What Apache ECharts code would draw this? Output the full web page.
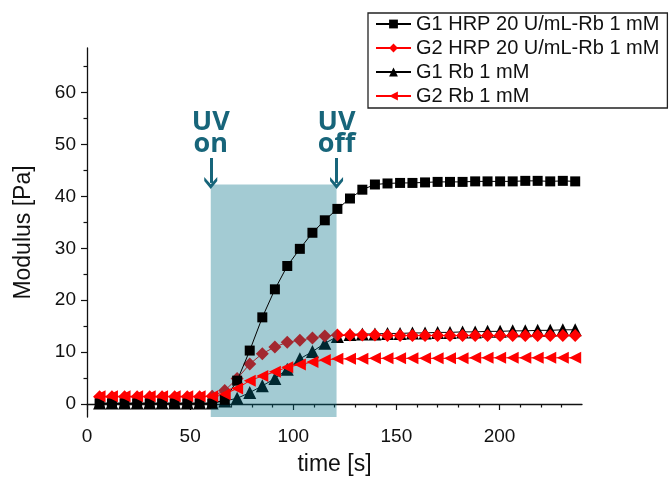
<!DOCTYPE html>
<html>
<head>
<meta charset="utf-8">
<script src="https://cdn.jsdelivr.net/npm/echarts@6/dist/echarts.min.js"></script>
<style>
  html, body { margin: 0; padding: 0; background: #fff; }
  #chart { width: 669px; height: 481px; }
</style>
</head>
<body>
<div id="chart"></div>
<script>
// measurement times [s]
const times = [6.1, 12.1, 18.2, 24.3, 30.4, 36.4, 42.5, 48.6, 54.6, 60.7,
  66.8, 72.8, 78.9, 85.0, 91.1, 97.1, 103.2, 109.3, 115.3, 121.4,
  127.5, 133.5, 139.6, 145.7, 151.8, 157.8, 163.9, 170.0, 176.0, 182.1,
  188.2, 194.2, 200.3, 206.4, 212.5, 218.5, 224.6, 230.7, 236.7];

// modulus [Pa]
const g1Hrp = [0.1, 0.1, 0.1, 0.1, 0.1, 0.1, 0.1, 0.1, 0.1, 0.1,
  0.8, 4.5, 10.3, 16.7, 22.1, 26.6, 29.9, 33.0, 35.4, 37.6,
  39.6, 41.3, 42.3, 42.5, 42.6, 42.6, 42.7, 42.8, 42.8, 42.8,
  42.9, 42.9, 42.9, 42.9, 43.0, 43.0, 42.9, 43.0, 42.9];
const g2Hrp = [1.4, 1.4, 1.4, 1.4, 1.4, 1.4, 1.4, 1.4, 1.4, 1.5,
  2.6, 4.9, 7.7, 9.7, 11.0, 11.9, 12.3, 12.7, 13.1, 13.3,
  13.3, 13.3, 13.3, 13.2, 13.2, 13.2, 13.2, 13.2, 13.2, 13.2,
  13.2, 13.2, 13.2, 13.2, 13.2, 13.2, 13.2, 13.2, 13.2];
const g1Rb = [0.2, 0.2, 0.2, 0.2, 0.2, 0.2, 0.2, 0.2, 0.2, 0.2,
  0.6, 1.1, 2.2, 3.5, 4.9, 6.7, 8.7, 10.1, 11.7, 13.0,
  13.4, 13.5, 13.5, 13.6, 13.6, 13.7, 13.7, 13.8, 13.8, 13.9,
  13.9, 14.0, 14.0, 14.1, 14.1, 14.2, 14.2, 14.3, 14.3];
const g2Rb = [1.5, 1.5, 1.5, 1.5, 1.5, 1.5, 1.5, 1.5, 1.5, 1.5,
  1.9, 3.0, 4.5, 5.4, 6.2, 7.1, 7.6, 8.1, 8.5, 8.7,
  8.7, 8.7, 8.8, 8.8, 8.8, 8.8, 8.8, 8.8, 8.8, 8.8,
  8.9, 8.9, 8.9, 8.9, 8.9, 8.9, 8.9, 8.9, 8.9];

const seriesNames = ['G1 HRP 20 U/mL-Rb 1 mM', 'G2 HRP 20 U/mL-Rb 1 mM', 'G1 Rb 1 mM', 'G2 Rb 1 mM'];
const xTicks = [0, 50, 100, 150, 200];
const yTicks = [0, 10, 20, 30, 40, 50, 60];

// UV exposure window
const uvOn = 60;
const uvOff = 121;
const uvTop = 42.3;

const font = 'Liberation Sans, Arial, sans-serif';
const teal = '#17657a';
const chevron = 'path://M5,0 L10,6 L10,9 L5,3.5 L0,9 L0,6 Z';

const pairs = vals => times.map((t, i) => [t, vals[i]]);

const lineSeries = (name, vals, color, symbol, size, z, rotate) => ({
  name: name,
  type: 'line',
  data: pairs(vals),
  symbol: symbol,
  symbolSize: size,
  symbolRotate: rotate || 0,
  showSymbol: true,
  z: z,
  itemStyle: { color: color, borderWidth: 0 },
  lineStyle: { color: color, width: 1 },
  emphasis: { disabled: true }
});

const chart = echarts.init(document.getElementById('chart'), null, { renderer: 'canvas' });

chart.setOption({
  animation: false,
  backgroundColor: '#fff',
  grid: { left: 87, right: 87, top: 48, bottom: 63 },
  legend: {
    orient: 'vertical',
    left: 368,
    top: 13,
    padding: [1, 8, 2, 7],
    itemGap: 4,
    itemWidth: 35,
    itemHeight: 11,
    borderColor: '#222',
    borderWidth: 1.3,
    textStyle: { fontFamily: font, fontSize: 20, color: '#111', lineHeight: 20 },
    data: seriesNames
  },
  xAxis: {
    type: 'value',
    min: 0,
    max: 240,
    splitNumber: 5,
    name: 'time [s]',
    nameLocation: 'middle',
    nameGap: 36,
    nameTextStyle: { fontFamily: font, fontSize: 23, color: '#111' },
    axisLine: { lineStyle: { color: '#111', width: 1.3 } },
    axisTick: { length: 6, lineStyle: { color: '#111', width: 1.2 }, customValues: xTicks },
    minorTick: { show: true, splitNumber: 5, length: 3.5, lineStyle: { color: '#111', width: 1.2 } },
    axisLabel: { fontFamily: font, fontSize: 19, color: '#111', margin: 10, customValues: xTicks },
    splitLine: { show: false }
  },
  yAxis: {
    type: 'value',
    min: -2.5,
    max: 68.6,
    splitNumber: 7,
    name: 'Modulus [Pa]',
    nameLocation: 'middle',
    nameGap: 52,
    nameTextStyle: { fontFamily: font, fontSize: 23, color: '#111' },
    axisLine: { show: true, lineStyle: { color: '#111', width: 1.3 } },
    axisTick: { show: true, length: 6, lineStyle: { color: '#111', width: 1.2 }, customValues: yTicks },
    minorTick: { show: true, splitNumber: 2, length: 3.5, lineStyle: { color: '#111', width: 1.2 } },
    axisLabel: { fontFamily: font, fontSize: 19, color: '#111', margin: 11, customValues: yTicks },
    splitLine: { show: false }
  },
  series: [
    lineSeries(seriesNames[2], g1Rb, '#000', 'triangle', 13, 2),
    lineSeries(seriesNames[1], g2Hrp, '#ff0000', 'diamond', 13, 2),
    {
      name: 'uv-shade',
      type: 'line',
      data: [],
      z: 3,
      silent: true,
      markArea: {
        silent: true,
        z: 3,
        itemStyle: { color: 'rgba(0,112,132,0.36)' },
        data: [[{ xAxis: uvOn, yAxis: uvTop }, { xAxis: uvOff, yAxis: -2.5 }]]
      }
    },
    lineSeries(seriesNames[0], g1Hrp, '#000', 'rect', 10, 4),
    lineSeries(seriesNames[3], g2Rb, '#ff0000', 'triangle', 12, 4, 90),
    {
      name: 'uv-arrows',
      type: 'line',
      data: [],
      z: 5,
      silent: true,
      markLine: {
        silent: true,
        z: 5,
        symbol: ['none', chevron],
        symbolSize: [13, 12],
        lineStyle: { color: teal, width: 3, type: 'solid' },
        label: {
          show: true,
          position: 'start',
          distance: 3,
          fontFamily: 'Open Sans, sans-serif',
          fontWeight: 'bold',
          fontSize: 27,
          lineHeight: 22,
          color: teal
        },
        data: [
          [{ coord: [uvOn, 47.4], label: { formatter: 'UV\non' } }, { coord: [uvOn, 42.6] }],
          [{ coord: [uvOff, 47.4], label: { formatter: 'UV\noff' } }, { coord: [uvOff, 42.6] }]
        ]
      }
    }
  ]
});
</script>
</body>
</html>
